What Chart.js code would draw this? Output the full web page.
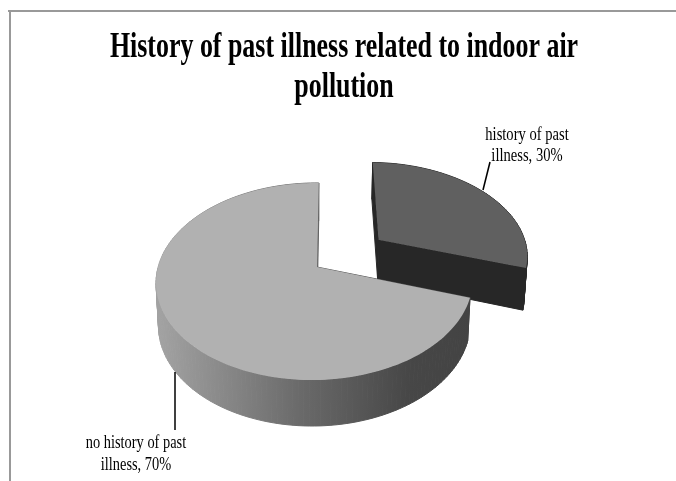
<!DOCTYPE html>
<html>
<head>
<meta charset="utf-8">
<title>History of past illness</title>
<script src="https://cdn.jsdelivr.net/npm/chart.js@4"></script>
<style>
    html, body { margin: 0; padding: 0; background: #fff; }
    canvas { display: block; }
</style>
</head>
<body>
<canvas id="illnessChart" width="676" height="481"></canvas>
<script>
const chartTitle = ['History of past illness related to indoor air', 'pollution'];
const categories = ['history of past illness', 'no history of past illness'];
const values = [30, 70];

// Slice colours
const topColors = ['#606060', '#b1b1b1'];
const wallStops = [
    [[0, '#272727'], [1, '#272727']],
    [[0, '#a2a2a2'], [0.45, '#6a6a6a'], [0.8, '#474747'], [1, '#434343']]
];

// Tilted view of the pie: maps a point of the unit disc to the page
const view = { x: 317, y: 267, sx: 156.5, sy: 96.4, lean: -2, tiltV: 0.147, tiltU: 0.015, depth: 42, depthV: 4, shrink: 0.985 };

function projectTop(u, v) {
    const w = 1 - view.tiltV * v + view.tiltU * u;
    return {
        x: view.x + (view.sx * u + view.lean * v) / w,
        y: view.y + view.sy * v / w
    };
}

function projectBottom(u, v) {
    const p = projectTop(u, v);
    return {
        x: view.x + (p.x - view.x) * view.shrink,
        y: p.y + view.depth + view.depthV * v
    };
}

// Outline of a slice in disc coordinates: apex first, then along the rim
function sliceOutline(arc) {
    const r = arc.outerRadius;
    const mid = (arc.startAngle + arc.endAngle) / 2;
    const ox = Math.cos(mid) * arc.options.offset / r;
    const oy = Math.sin(mid) * arc.options.offset / r;
    const pts = [{ u: ox, v: oy }];
    const steps = Math.ceil((arc.endAngle - arc.startAngle) / 0.03);
    for (let i = 0; i <= steps; i++) {
        const a = arc.startAngle + (arc.endAngle - arc.startAngle) * i / steps;
        pts.push({ u: ox + Math.cos(a), v: oy + Math.sin(a) });
    }
    return pts;
}

const pie3d = {
    id: 'pie3d',
    beforeDatasetsDraw(chart) {
        const ctx = chart.ctx;
        const arcs = chart.getDatasetMeta(0).data;
        // the pulled out slice sits behind the big one
        arcs.forEach((arc, index) => {
            const pts = sliceOutline(arc);
            const grad = ctx.createLinearGradient(160, 0, 470, 0);
            wallStops[index].forEach(s => grad.addColorStop(s[0], s[1]));
            ctx.save();
            ctx.fillStyle = grad;
            ctx.strokeStyle = grad;
            ctx.lineWidth = 1;
            pts.forEach((p, i) => {
                const q = pts[(i + 1) % pts.length];
                const a = projectTop(p.u, p.v), b = projectTop(q.u, q.v);
                const c = projectBottom(q.u, q.v), d = projectBottom(p.u, p.v);
                ctx.beginPath();
                ctx.moveTo(a.x, a.y);
                ctx.lineTo(b.x, b.y);
                ctx.lineTo(c.x, c.y);
                ctx.lineTo(d.x, d.y);
                ctx.closePath();
                ctx.fill();
                ctx.stroke();
            });
            ctx.beginPath();
            pts.forEach((p, i) => {
                const a = projectTop(p.u, p.v);
                if (i === 0) ctx.moveTo(a.x, a.y);
                else ctx.lineTo(a.x, a.y);
            });
            ctx.closePath();
            ctx.fillStyle = arc.options.backgroundColor;
            ctx.fill();
            ctx.restore();
        });
        return false;
    }
};

function squeezedText(ctx, text, x, y, font, scaleX) {
    ctx.save();
    ctx.translate(x, y);
    ctx.scale(scaleX, 1);
    ctx.font = font;
    ctx.textAlign = 'center';
    ctx.textBaseline = 'alphabetic';
    ctx.fillStyle = '#000';
    ctx.fillText(text, 0, 0);
    ctx.restore();
}

function leader(ctx, x1, y1, x2, y2) {
    ctx.beginPath();
    ctx.moveTo(x1, y1);
    ctx.lineTo(x2, y2);
    ctx.strokeStyle = '#000';
    ctx.lineWidth = 1.5;
    ctx.stroke();
}

function labelLines(index) {
    const text = categories[index] + ', ' + values[index] + '%';
    const cut = text.lastIndexOf(' illness');
    return [text.slice(0, cut), text.slice(cut + 1)];
}

const annotations = {
    id: 'annotations',
    afterDraw(chart) {
        const ctx = chart.ctx;

        // frame, open on the right and at the bottom
        ctx.fillStyle = '#999';
        ctx.fillRect(8, 10, 668, 2);
        ctx.fillRect(9, 10, 2, 471);

        const titleFont = 'bold 36px "Liberation Serif"';
        squeezedText(ctx, chartTitle[0], 344, 57, titleFont, 0.72);
        squeezedText(ctx, chartTitle[1], 344, 97, titleFont, 0.72);

        const labelFont = '18px "Liberation Serif"';
        const right = labelLines(0);
        squeezedText(ctx, right[0], 527, 140, labelFont, 0.81);
        squeezedText(ctx, right[1], 527, 161, labelFont, 0.81);
        const left = labelLines(1);
        squeezedText(ctx, left[0], 136, 448, labelFont, 0.8);
        squeezedText(ctx, left[1], 136, 470, labelFont, 0.8);

        leader(ctx, 490, 162, 483, 190);
        leader(ctx, 175, 372, 175, 430);
    }
};

new Chart(document.getElementById('illnessChart'), {
    type: 'pie',
    data: {
        labels: categories,
        datasets: [{
            data: values,
            backgroundColor: topColors,
            borderWidth: 0,
            offset: [81, 0]
        }]
    },
    options: {
        responsive: false,
        animation: false,
        radius: 160,
        rotation: 0,
        plugins: {
            legend: { display: false },
            title: { display: false },
            tooltip: { enabled: false }
        }
    },
    plugins: [pie3d, annotations]
});
</script>
</body>
</html>
